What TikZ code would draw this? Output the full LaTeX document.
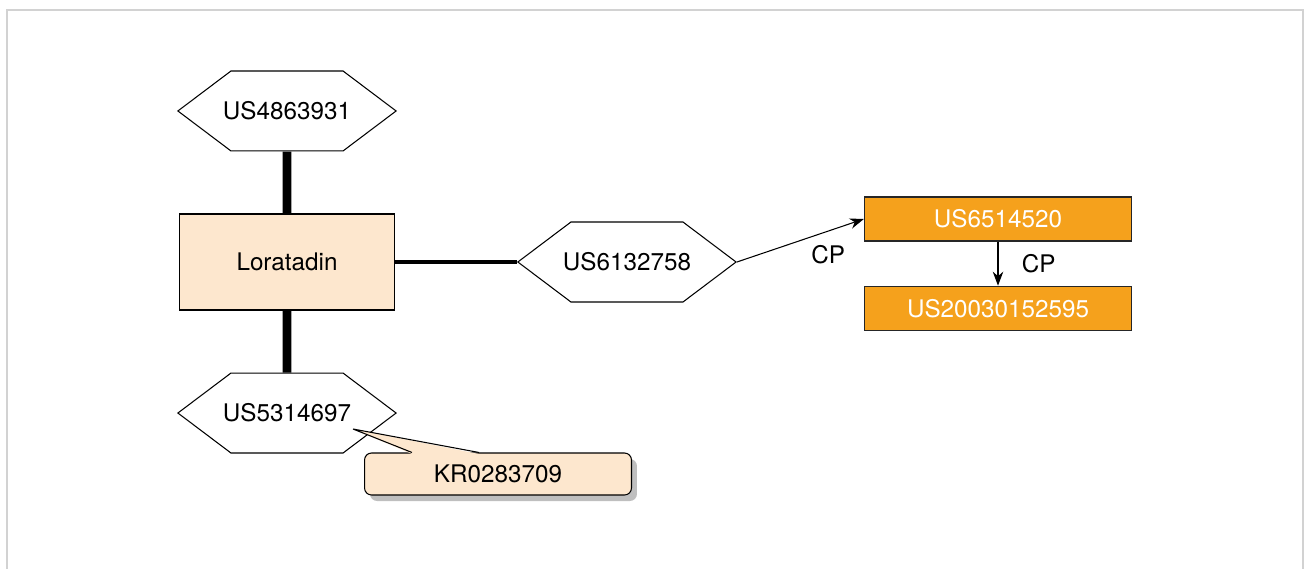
\documentclass[tikz,border=0pt]{standalone}
\usepackage{fontspec}
\setmainfont{TeX Gyre Heros}
\usetikzlibrary{shapes.symbols, arrows.meta, positioning, calc, shadows}
\definecolor{peach}{HTML}{FDE7CE}
\definecolor{patorange}{HTML}{F5A11C}
\definecolor{framegray}{HTML}{D2D2D2}
\tikzstyle{arrow} = [semithick, -{Stealth[length=8pt, width=6pt]}]

\begin{document}
\begin{tikzpicture}[
        x=0.02cm, y=-0.02cm,
        every node/.style={font=\fontsize{13.8}{16}\selectfont},
        hexa/.style={signal, signal to=west and east, signal pointer angle=74,
            draw, semithick, minimum height=1.6cm, inner ysep=0pt, inner xsep=-0.16cm},
        family/.style={rectangle, draw, semithick, fill=peach,
            minimum width=4.3cm, minimum height=1.92cm},
        citing/.style={rectangle, draw=black!85, thick, fill=patorange, text=white,
            minimum width=5.34cm, minimum height=0.88cm},
        note/.style={rectangle, rounded corners=4pt, draw, semithick, fill=peach,
            minimum width=5.34cm, minimum height=0.84cm,
            drop shadow={shadow xshift=0.11cm, shadow yshift=-0.12cm,
                fill=black!25, opacity=1}},
        bar/.style={line width=5pt},
        link/.style={line width=2.3pt}
    ]
    \useasboundingbox (0,0) rectangle (1305,568);
    % frame
    \draw [framegray, line width=1.5pt] (7,600) -- (7,10) -- (1303,10) -- (1303,600);

    \node (lor)  [family] at (287,262)  {Loratadin};
    \node (h1)   [hexa, above=1.24cm of lor] {US4863931};
    \node (h3)   [hexa, below=1.24cm of lor] {US5314697};
    \node (h2)   [hexa, right=2.44cm of lor] {US6132758};
    \node (p1)   [citing] at (998,219)  {US6514520};
    \node (p2)   [citing, below=0.88cm of p1] {US20030152595};
    \node (kr)   [note] at (498,474)    {KR0283709};
    \coordinate (krtip) at (353,429);

    \draw [bar]  (h1) -- (lor);
    \draw [bar]  (lor) -- (h3);
    \draw [link] (lor.east) -- (h2.west);
    \draw [arrow] (h2.east) -- node[pos=0.72, below=0.16cm]{CP} (p1.west);
    \draw [arrow] (p1) -- node[right=0.35cm]{CP} (p2);

    % callout pointer
    \fill [peach] ($(kr.north west)+(48,1.5)$) -- (krtip)
        -- ($(kr.north west)+(115,1.5)$) -- cycle;
    \draw [semithick, line join=miter] ($(kr.north west)+(48,0)$) -- (krtip)
        -- ($(kr.north west)+(115,0)$);
\end{tikzpicture}
\end{document}
